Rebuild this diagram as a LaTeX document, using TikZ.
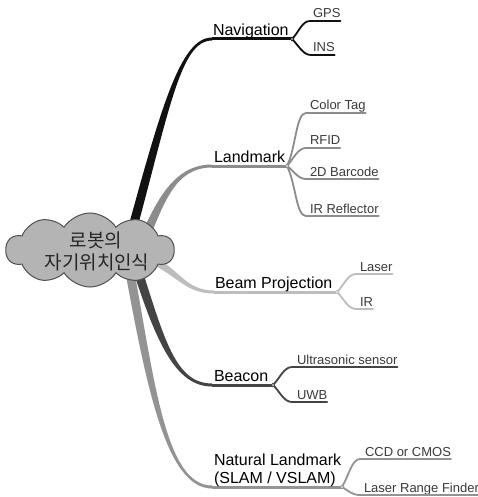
\documentclass[tikz,border=0pt]{standalone}
\usepackage{fontspec}
\setmainfont{Liberation Sans}
\newfontfamily\kofont{Noto Sans CJK KR}
\usetikzlibrary{calc,shapes.symbols}

\definecolor{navc}{HTML}{111111}
\definecolor{lmc}{HTML}{8C8C8C}
\definecolor{bpc}{HTML}{BDBDBD}
\definecolor{bcc}{HTML}{444444}
\definecolor{nlc}{HTML}{939393}
\definecolor{cloudfill}{HTML}{B4B4B4}
\definecolor{cloudline}{HTML}{505050}
\definecolor{subtext}{HTML}{3A3A3A}

% tapered limb: colour, P0, P1, P2, P3, half-width at start, half-width at end
\newcommand\taperlimb[7]{%
  \fill[#1] ($(#2)!#6!90:(#3)$)
    .. controls ($(#3)!#6!-90:(#2)$) and ($(#4)!#7!90:(#5)$) .. ($(#5)!#7!-90:(#4)$)
    -- ($(#5)!#7!90:(#4)$)
    .. controls ($(#4)!#7!-90:(#5)$) and ($(#3)!#6!90:(#2)$) .. ($(#2)!#6!-90:(#3)$)
    -- cycle;}

\tikzset{
  mainlbl/.style={inner sep=0pt, outer sep=0pt, anchor=base west,
    font=\fontsize{16}{18}\selectfont, text=black},
  sublbl/.style={inner sep=0pt, outer sep=0pt, anchor=base west,
    font=\fontsize{13}{15}\selectfont, text=subtext},
  koline/.style={inner sep=0pt, font=\kofont\fontsize{19}{21}\selectfont, text=black!85},
  mainrule/.style={line width=3pt},
  subrule/.style={line width=1.8pt, line cap=round},
  splitdot/.style={fill=white, draw=#1, line width=0.8pt},
}

\begin{document}
\begin{tikzpicture}[x=1pt, y=-1pt]
\useasboundingbox (0,0) rectangle (478,497);
\fill[white] (0,0) rectangle (478,497);

% ---- limb geometry ----
\coordinate (navA) at (128,245); \coordinate (navB) at (165,110);
\coordinate (navC) at (180,39);  \coordinate (navD) at (212,39);
\coordinate (lmA) at (140,250);  \coordinate (lmB) at (160,200);
\coordinate (lmC) at (175,166);  \coordinate (lmD) at (212,166);
\coordinate (bpA) at (140,255);  \coordinate (bpB) at (178,268);
\coordinate (bpC) at (182,292);  \coordinate (bpD) at (214,292);
\coordinate (bcA) at (135,262);  \coordinate (bcB) at (160,340);
\coordinate (bcC) at (175,385);  \coordinate (bcD) at (212,385);
\coordinate (nlA) at (128,262);  \coordinate (nlB) at (150,380);
\coordinate (nlC) at (165,487);  \coordinate (nlD) at (212,487);

% split points
\coordinate (navS) at (292,39);
\coordinate (lmS)  at (287,166);
\coordinate (bpS)  at (337,292);
\coordinate (bcS)  at (273,385);
\coordinate (nlS)  at (342,487);

% ---- main limbs ----
\taperlimb{navc}{navA}{navB}{navC}{navD}{4.5pt}{1.5pt}
\taperlimb{lmc}{lmA}{lmB}{lmC}{lmD}{4.5pt}{1.5pt}
\taperlimb{bpc}{bpA}{bpB}{bpC}{bpD}{4pt}{1.5pt}
\taperlimb{nlc}{nlA}{nlB}{nlC}{nlD}{4.5pt}{1.5pt}
\taperlimb{bcc}{bcA}{bcB}{bcC}{bcD}{4.5pt}{1.5pt}

\draw[mainrule, navc] (navD) -- (navS);
\draw[mainrule, lmc]  (lmD)  -- (lmS);
\draw[mainrule, bpc]  (bpD)  -- (bpS);
\draw[mainrule, bcc]  (bcD)  -- (bcS);
\draw[mainrule, nlc]  (nlD)  -- (nlS);

% ---- main labels ----
\node[mainlbl] (nav) at (213,35.5) {Navigation};
\node[mainlbl] (lm)  at (214,162.5) {Landmark};
\node[mainlbl] (bp)  at (215,288.5) {Beam Projection};
\node[mainlbl] (bc)  at (214,381.5) {Beacon};
\node[mainlbl] (nl1) at (214,465) {Natural Landmark};
\node[mainlbl] (nl2) at (214,483) {(SLAM / VSLAM)};

% ---- sub-branch rule starts ----
\coordinate (gpsA) at (310,21);
\coordinate (insA) at (311,55);
\coordinate (ctA)  at (306,113);
\coordinate (rfA)  at (306,148);
\coordinate (bcdA) at (306,179);
\coordinate (irrA) at (306,216);
\coordinate (lsA)  at (356,274);
\coordinate (irA)  at (356,309);
\coordinate (usA)  at (292,367);
\coordinate (uwA)  at (292,402);
\coordinate (ccA)  at (360,459);
\coordinate (lrA)  at (360,495);

% ---- sub labels ----
\node[sublbl] (gps) at ([xshift=3pt,yshift=3pt]gpsA) {GPS};
\node[sublbl] (ins) at ([xshift=2pt,yshift=3pt]insA) {INS};
\node[sublbl] (ct)  at ([xshift=4pt,yshift=3pt]ctA)  {Color Tag};
\node[sublbl] (rf)  at ([xshift=4pt,yshift=3pt]rfA)  {RFID};
\node[sublbl] (bcd) at ([xshift=4pt,yshift=3pt]bcdA) {2D Barcode};
\node[sublbl] (irr) at ([xshift=4pt,yshift=3pt]irrA) {IR Reflector};
\node[sublbl] (ls)  at ([xshift=4pt,yshift=3pt]lsA)  {Laser};
\node[sublbl] (ir)  at ([xshift=4pt,yshift=3pt]irA)  {IR};
\node[sublbl] (us)  at ([xshift=5pt,yshift=3pt]usA)  {Ultrasonic sensor};
\node[sublbl] (uw)  at ([xshift=5pt,yshift=3pt]uwA)  {UWB};
\node[sublbl] (cc)  at ([xshift=5pt,yshift=3pt]ccA)  {CCD or CMOS};
\node[sublbl] (lr)  at ([xshift=4pt,yshift=3pt]lrA)  {Laser Range Finder};

% ---- sub-branches with underlines ----
\draw[subrule, navc] (navS) .. controls +(7,-7) and +(-8,0) .. (gpsA) -- (gpsA -| gps.east);
\draw[subrule, navc] (navS) .. controls +(7,7) and +(-8,0) .. (insA) -- (insA -| ins.east);

\draw[subrule, lmc] (lmS) .. controls +(9,-18) and +(-10,0) .. (ctA)  -- (ctA -| ct.east);
\draw[subrule, lmc] (lmS) .. controls +(7,-8) and +(-8,0) .. (rfA)  -- (rfA -| rf.east);
\draw[subrule, lmc] (lmS) .. controls +(7,5) and +(-8,0) .. (bcdA) -- (bcdA -| bcd.east);
\draw[subrule, lmc] (lmS) .. controls +(9,18) and +(-10,0) .. (irrA) -- (irrA -| irr.east);

\draw[subrule, bpc] (bpS) .. controls +(7,-7) and +(-8,0) .. (lsA) -- (lsA -| ls.east);
\draw[subrule, bpc] (bpS) .. controls +(7,7) and +(-8,0) .. (irA) -- (irA -| ir.east);

\draw[subrule, bcc] (bcS) .. controls +(7,-7) and +(-8,0) .. (usA) -- (usA -| us.east);
\draw[subrule, bcc] (bcS) .. controls +(7,7) and +(-8,0) .. (uwA) -- (uwA -| uw.east);

\draw[subrule, nlc] (nlS) .. controls +(7,-12) and +(-8,0) .. (ccA) -- (ccA -| cc.east);
\draw[subrule, nlc] (nlS) .. controls +(7,4) and +(-8,0) .. (lrA) -- (lrA -| lr.east);

% split dots
\filldraw[splitdot=navc] (navS) circle (1.8pt);
\filldraw[splitdot=lmc]  (lmS)  circle (1.8pt);
\filldraw[splitdot=bpc]  (bpS)  circle (1.8pt);
\filldraw[splitdot=bcc]  (bcS)  circle (1.8pt);
\filldraw[splitdot=nlc]  (nlS)  circle (1.8pt);

% ---- central cloud ----
\node[cloud, cloud puffs=10, cloud puff arc=115, aspect=2.25,
      minimum width=168pt, minimum height=74pt, inner sep=0pt,
      draw=cloudline, fill=cloudfill, line width=1pt] (root) at (90,250) {};
\node[koline] (k1) at (96,240.5) {로봇의};
\node[koline] (k2) at (97,262.5) {자기위치인식};
\end{tikzpicture}
\end{document}
